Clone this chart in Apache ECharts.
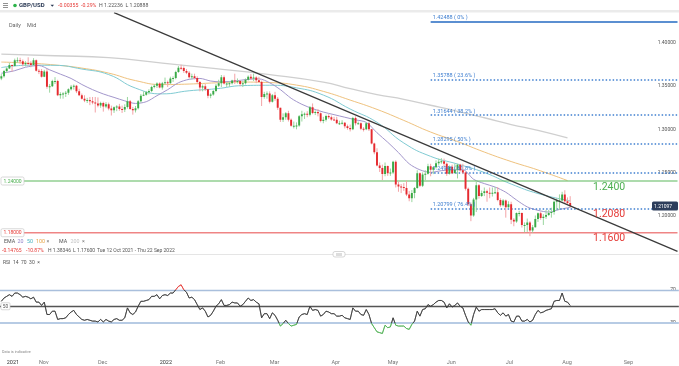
<!DOCTYPE html>
<html><head><meta charset="utf-8">
<script src="https://cdn.jsdelivr.net/npm/echarts@6/dist/echarts.min.js"></script>
<style>html,body{margin:0;padding:0;background:#fff}#c{width:679px;height:366px}</style>
</head><body><div id="c"></div>
<script>
// ---------- DATA ----------
const startDate = '2021-10-12';
const nCategories = 253; // trading days shown, Oct 12 2021 -> end of Sep 2022
const tickDates = ['2021-10-14','2021-11-01','2021-12-01','2022-01-03','2022-02-01','2022-03-01','2022-04-01','2022-05-02','2022-06-01','2022-07-01','2022-08-01','2022-09-01'];
const tickLabels = ['2021','Nov','Dec','2022','Feb','Mar','Apr','May','Jun','Jul','Aug','Sep'];

// daily candles [open, close, low, high]
const candles = [
[1.3590,1.3615,1.3570,1.3640],[1.3615,1.3675,1.3600,1.3690],[1.3675,1.3705,1.3660,1.3720],[1.3705,1.3745,1.3700,1.3772],
[1.3745,1.3735,1.3670,1.3750],[1.3735,1.3800,1.3730,1.3820],[1.3800,1.3800,1.3770,1.3834],[1.3800,1.3790,1.3760,1.3830],
[1.3790,1.3755,1.3730,1.3810],[1.3755,1.3770,1.3730,1.3790],[1.3770,1.3765,1.3740,1.3835],[1.3765,1.3745,1.3720,1.3790],
[1.3745,1.3800,1.3735,1.3825],[1.3800,1.3680,1.3670,1.3810],[1.3680,1.3675,1.3640,1.3700],[1.3675,1.3610,1.3600,1.3700],
[1.3610,1.3670,1.3605,1.3690],[1.3670,1.3495,1.3470,1.3700],[1.3495,1.3500,1.3425,1.3525],[1.3500,1.3560,1.3490,1.3575],
[1.3560,1.3560,1.3525,1.3605],[1.3560,1.3395,1.3385,1.3575],[1.3395,1.3410,1.3355,1.3430],[1.3410,1.3415,1.3355,1.3430],
[1.3415,1.3425,1.3375,1.3445],[1.3425,1.3465,1.3400,1.3475],[1.3465,1.3495,1.3450,1.3515],[1.3495,1.3505,1.3460,1.3520],
[1.3505,1.3440,1.3420,1.3515],[1.3440,1.3395,1.3385,1.3470],[1.3395,1.3355,1.3345,1.3415],[1.3355,1.3335,1.3315,1.3395],
[1.3335,1.3340,1.3305,1.3365],[1.3340,1.3325,1.3280,1.3375],[1.3325,1.3310,1.3290,1.3375],[1.3310,1.3300,1.3195,1.3375],
[1.3300,1.3275,1.3255,1.3370],[1.3275,1.3305,1.3250,1.3320],[1.3305,1.3265,1.3205,1.3320],[1.3265,1.3290,1.3245,1.3315],
[1.3290,1.3240,1.3220,1.3310],[1.3240,1.3220,1.3160,1.3275],[1.3220,1.3255,1.3190,1.3265],[1.3255,1.3265,1.3210,1.3280],
[1.3265,1.3235,1.3215,1.3295],[1.3235,1.3230,1.3190,1.3275],[1.3230,1.3260,1.3200,1.3290],[1.3260,1.3325,1.3240,1.3375],
[1.3325,1.3235,1.3225,1.3340],[1.3235,1.3220,1.3170,1.3260],[1.3220,1.3245,1.3195,1.3270],[1.3245,1.3325,1.3230,1.3340],
[1.3325,1.3390,1.3310,1.3410],[1.3390,1.3400,1.3385,1.3440],[1.3400,1.3430,1.3390,1.3445],[1.3430,1.3445,1.3405,1.3465],
[1.3445,1.3490,1.3430,1.3505],[1.3490,1.3505,1.3475,1.3525],[1.3505,1.3530,1.3480,1.3545],[1.3530,1.3485,1.3475,1.3545],
[1.3485,1.3535,1.3460,1.3550],[1.3535,1.3545,1.3520,1.3600],[1.3545,1.3535,1.3490,1.3565],[1.3535,1.3590,1.3530,1.3610],
[1.3590,1.3595,1.3550,1.3615],[1.3595,1.3665,1.3580,1.3680],[1.3665,1.3715,1.3655,1.3735],[1.3715,1.3710,1.3690,1.3749],
[1.3710,1.3675,1.3655,1.3730],[1.3675,1.3655,1.3640,1.3700],[1.3655,1.3605,1.3590,1.3675],[1.3605,1.3615,1.3580,1.3645],
[1.3615,1.3595,1.3580,1.3645],[1.3595,1.3550,1.3530,1.3615],[1.3550,1.3485,1.3440,1.3560],[1.3485,1.3500,1.3440,1.3520],
[1.3500,1.3465,1.3445,1.3525],[1.3465,1.3390,1.3360,1.3470],[1.3390,1.3405,1.3360,1.3420],[1.3405,1.3445,1.3390,1.3455],
[1.3445,1.3505,1.3430,1.3525],[1.3505,1.3535,1.3490,1.3575],[1.3535,1.3605,1.3490,1.3630],[1.3605,1.3530,1.3520,1.3625],
[1.3530,1.3530,1.3490,1.3545],[1.3530,1.3535,1.3490,1.3560],[1.3535,1.3565,1.3520,1.3575],[1.3565,1.3555,1.3525,1.3645],
[1.3555,1.3560,1.3530,1.3590],[1.3560,1.3525,1.3500,1.3570],[1.3525,1.3535,1.3490,1.3560],[1.3535,1.3575,1.3520,1.3590],
[1.3575,1.3610,1.3565,1.3625],[1.3610,1.3590,1.3575,1.3640],[1.3590,1.3600,1.3560,1.3645],[1.3600,1.3570,1.3535,1.3615],
[1.3570,1.3550,1.3540,1.3610],[1.3550,1.3375,1.3270,1.3565],[1.3375,1.3410,1.3355,1.3435],[1.3410,1.3415,1.3355,1.3440],
[1.3415,1.3320,1.3300,1.3440],[1.3320,1.3395,1.3310,1.3410],[1.3395,1.3355,1.3330,1.3435],[1.3355,1.3250,1.3225,1.3375],
[1.3250,1.3110,1.3085,1.3250],[1.3110,1.3140,1.3085,1.3185],[1.3140,1.3185,1.3110,1.3200],[1.3185,1.3110,1.3090,1.3215],
[1.3110,1.3040,1.3030,1.3125],[1.3040,1.3040,1.3010,1.3090],[1.3040,1.3045,1.3000,1.3080],[1.3045,1.3150,1.3030,1.3165],
[1.3150,1.3175,1.3090,1.3215],[1.3175,1.3180,1.3120,1.3195],[1.3180,1.3170,1.3140,1.3210],[1.3170,1.3255,1.3150,1.3270],
[1.3255,1.3190,1.3175,1.3300],[1.3190,1.3200,1.3165,1.3220],[1.3200,1.3185,1.3150,1.3235],[1.3185,1.3095,1.3080,1.3195],
[1.3095,1.3110,1.3070,1.3145],[1.3110,1.3155,1.3090,1.3170],[1.3155,1.3140,1.3120,1.3175],[1.3140,1.3115,1.3100,1.3160],
[1.3115,1.3110,1.3100,1.3145],[1.3110,1.3070,1.3060,1.3145],[1.3070,1.3070,1.3050,1.3100],[1.3070,1.3075,1.3055,1.3105],
[1.3075,1.3035,1.3010,1.3085],[1.3035,1.3015,1.2995,1.3055],[1.3015,1.3000,1.2975,1.3055],[1.3000,1.3130,1.2990,1.3145],
[1.3130,1.3070,1.3045,1.3150],[1.3070,1.3070,1.3055,1.3090],[1.3070,1.3005,1.2990,1.3080],[1.3005,1.3000,1.2975,1.3025],
[1.3000,1.3070,1.2990,1.3080],[1.3070,1.3000,1.2980,1.3090],[1.3000,1.2835,1.2825,1.3005],[1.2835,1.2735,1.2710,1.2845],
[1.2735,1.2580,1.2570,1.2780],[1.2580,1.2550,1.2505,1.2615],[1.2550,1.2480,1.2410,1.2590],[1.2480,1.2575,1.2455,1.2615],
[1.2575,1.2490,1.2460,1.2580],[1.2490,1.2500,1.2460,1.2545],[1.2500,1.2625,1.2480,1.2635],[1.2625,1.2360,1.2325,1.2640],
[1.2360,1.2335,1.2275,1.2395],[1.2335,1.2330,1.2260,1.2365],[1.2330,1.2320,1.2285,1.2375],[1.2320,1.2245,1.2225,1.2405],
[1.2245,1.2200,1.2165,1.2285],[1.2200,1.2260,1.2155,1.2295],[1.2260,1.2320,1.2200,1.2330],[1.2320,1.2490,1.2310,1.2525],
[1.2490,1.2345,1.2330,1.2500],[1.2345,1.2475,1.2330,1.2500],[1.2475,1.2485,1.2410,1.2525],[1.2485,1.2570,1.2475,1.2600],
[1.2570,1.2530,1.2455,1.2600],[1.2530,1.2560,1.2480,1.2570],[1.2560,1.2605,1.2545,1.2640],[1.2605,1.2625,1.2580,1.2660],
[1.2625,1.2630,1.2600,1.2665],[1.2630,1.2600,1.2560,1.2660],[1.2600,1.2485,1.2460,1.2615],[1.2485,1.2565,1.2475,1.2580],
[1.2565,1.2490,1.2480,1.2590],[1.2490,1.2530,1.2490,1.2600],[1.2530,1.2590,1.2430,1.2600],[1.2590,1.2525,1.2510,1.2600],
[1.2525,1.2500,1.2480,1.2600],[1.2500,1.2310,1.2290,1.2510],[1.2310,1.2130,1.2110,1.2325],[1.2130,1.2000,1.1934,1.2150],
[1.2000,1.2185,1.1985,1.2205],[1.2185,1.2350,1.2040,1.2405],[1.2350,1.2225,1.2195,1.2365],[1.2225,1.2260,1.2215,1.2290],
[1.2260,1.2280,1.2225,1.2325],[1.2280,1.2265,1.2160,1.2300],[1.2265,1.2260,1.2200,1.2325],[1.2260,1.2265,1.2220,1.2325],
[1.2265,1.2270,1.2250,1.2330],[1.2270,1.2180,1.2165,1.2330],[1.2180,1.2120,1.2100,1.2200],[1.2120,1.2175,1.2105,1.2190],
[1.2175,1.2095,1.1975,1.2185],[1.2095,1.2130,1.2090,1.2165],[1.2130,1.1950,1.1900,1.2160],[1.1950,1.1930,1.1875,1.1970],
[1.1930,1.2030,1.1915,1.2035],[1.2030,1.2030,1.1990,1.2055],[1.2030,1.1890,1.1860,1.2035],[1.1890,1.1890,1.1805,1.1920],
[1.1890,1.1920,1.1810,1.1965],[1.1920,1.1825,1.1760,1.1935],[1.1825,1.1865,1.1800,1.1890],[1.1865,1.1960,1.1860,1.2000],
[1.1960,1.2025,1.1925,1.2035],[1.2025,1.1970,1.1950,1.2045],[1.1970,1.1985,1.1890,1.2015],[1.1985,1.2005,1.1960,1.2065],
[1.2005,1.2030,1.1995,1.2065],[1.2030,1.2040,1.1975,1.2090],[1.2040,1.2160,1.2010,1.2175],[1.2160,1.2175,1.2060,1.2200],
[1.2175,1.2175,1.2065,1.2245],[1.2175,1.2245,1.2160,1.2275],[1.2245,1.2165,1.2135,1.2293],[1.2165,1.2145,1.2130,1.2210],
[1.2145,1.2110,1.2089,1.2224]
];

// moving averages: [dayIndex, value]
const ema20 = [[0,1.3650],[5,1.3680],[9,1.3720],[14,1.3740],[18,1.3690],[22,1.3640],[26,1.3590],[30,1.3520],[34,1.3460],[38,1.3410],[42,1.3370],[46,1.3330],[50,1.3300],[54,1.3320],[58,1.3390],[62,1.3460],[66,1.3540],[70,1.3580],[74,1.3590],[78,1.3560],[82,1.3550],[87,1.3560],[92,1.3580],[96,1.3585],[100,1.3540],[104,1.3460],[108,1.3360],[112,1.3290],[116,1.3240],[120,1.3200],[124,1.3170],[128,1.3140],[132,1.3110],[136,1.3080],[140,1.2960],[144,1.2850],[148,1.2730],[152,1.2600],[156,1.2530],[160,1.2500],[164,1.2520],[168,1.2530],[172,1.2530],[176,1.2420],[180,1.2370],[184,1.2330],[188,1.2270],[192,1.2180],[196,1.2100],[200,1.2060],[204,1.2040],[208,1.2070],[212,1.2095]];
const ema50 = [[0,1.3716],[10,1.3743],[20,1.3742],[30,1.3699],[40,1.3635],[50,1.3478],[60,1.3411],[70,1.3447],[80,1.3470],[90,1.3507],[100,1.3511],[110,1.3481],[120,1.3397],[130,1.3235],[140,1.3081],[150,1.2841],[160,1.2686],[170,1.2597],[180,1.2499],[190,1.2365],[200,1.2255],[212,1.2170]];
const ema100 = [[0,1.3780],[10,1.3768],[20,1.3746],[30,1.3710],[40,1.3652],[50,1.3565],[60,1.3519],[70,1.3525],[80,1.3539],[90,1.3548],[100,1.3542],[110,1.3513],[120,1.3440],[130,1.3339],[140,1.3231],[150,1.3103],[160,1.2968],[170,1.2858],[180,1.2736],[190,1.2626],[200,1.2528],[211,1.2405]];
const ma200 = [[0,1.3872],[20,1.3853],[40,1.3832],[60,1.3768],[80,1.3704],[100,1.3635],[120,1.3548],[130,1.3472],[140,1.3403],[150,1.3348],[160,1.3279],[170,1.3209],[180,1.3134],[190,1.3055],[200,1.2988],[211,1.2900]];

// RSI(14)
const rsi = [56,60,62,64,62,66,66,64,61,62,61,59,61,55,55,51,55,40,40,44,
44,34,35,35,36,40,43,45,40,37,34,33,34,33,32,32,31,34,31,34,
32,31,34,35,33,33,36,48,42,40,43,50,56,56,57,58,62,62,64,59,
63,64,63,66,66,70,74,76,70,67,60,61,58,52,46,48,44,37,39,44,
50,53,58,51,51,52,55,54,54,50,52,56,60,57,58,55,53,36,41,41,
35,42,39,33,26,29,33,29,26,27,28,37,40,41,40,50,45,46,45,38,
40,44,43,41,41,38,38,39,36,35,34,48,44,44,40,39,46,40,29,24,
19,18,17,27,24,25,36,27,26,26,26,23,22,28,32,44,38,46,47,52,
50,52,55,57,57,55,48,53,49,51,54,50,48,39,31,27,40,49,44,46,
46,46,46,46,47,42,39,42,38,40,32,31,38,38,32,32,34,31,33,40,
45,42,43,45,46,47,56,57,57,66,56,55,51];

const fibLevels = [1.42488,1.35788,1.31644,1.28295,1.24946,1.20799];
const fibNames = ['0%','23.6%','38.2%','50%','61.8%','76.4%'];
const fibStartIndex = 160;
const trendline = [[42,1.43537],[252,1.15833]];
const greenLevel = [[0,1.24],[252,1.24]];
const redLevel = [[0,1.18],[252,1.18]];
const noteLabels = [['1.2400',1.2400,'#4caf50'],['1.2080',1.2080,'#e53935'],['1.1600',1.1800,'#e53935']];
const lastPrice = 1.21097;

// ---------- BUILD ----------
const cats = [];
{ let d = new Date(startDate + 'T00:00:00Z');
  while (cats.length < nCategories) { const w = d.getUTCDay(); if (w !== 0 && w !== 6) cats.push(d.toISOString().slice(0,10)); d.setUTCDate(d.getUTCDate()+1); } }

const candleData = candles.map((r,i)=>[i, r[0], r[1], r[2], r[3]]);
const FONT = 'Roboto, "Noto Sans", sans-serif';
const chart = echarts.init(document.getElementById('c'), null, {renderer:'canvas'});

const fibMark = fibLevels.map((v,k)=>[
  {coord:[fibStartIndex, v], lineStyle: k===0 ? {type:'solid', width:2, color:'#5b8fd1'} : {type:[1.5,2], width:1.5, color:'#3f7fd0'},
   label:{show:true, position:'insideStartTop', formatter: v.toFixed(5)+' ( '+fibNames[k]+' )', color:'#3f7fd0', fontSize:5.5, fontFamily:FONT, distance:[2,1]}},
  {coord:[nCategories-1, v]}
]);

const option = {
  animation:false,
  backgroundColor:'#fff',
  grid:[{left:-6.25, width:685.1, top:-0.1, height:258.7},
        {left:-6.25, width:685.1, top:265, height:82.5}],
  xAxis:[
    {type:'category', gridIndex:0, data:cats, show:false},
    {type:'category', gridIndex:1, data:cats, axisLine:{show:false}, axisTick:{show:false},
     axisLabel:{interval:(i,v)=>tickDates.includes(v), formatter:v=>{const k=tickDates.indexOf(v); const t=tickLabels[k]; return /^\d{4}$/.test(t)?'{y|'+t+'}':t;},
       align:'left', margin:12, fontSize:5.5, color:'#777', fontFamily:FONT, rich:{y:{fontSize:5.5, color:'#333', fontFamily:FONT}}}}
  ],
  yAxis:[
    {type:'value', gridIndex:0, min:1.15, max:1.45, interval:0.05, position:'right', splitLine:{show:false}, axisLine:{show:false}, axisTick:{show:false},
     axisLabel:{inside:true, margin:3, fontSize:5, color:'#555', fontFamily:FONT, formatter:v=>(v>1.17&&v<1.43)?v.toFixed(5):''}},
    {type:'value', gridIndex:1, min:0, max:100, interval:10, position:'right', splitLine:{show:false}, axisLine:{show:false}, axisTick:{show:false},
     axisLabel:{inside:true, margin:3, fontSize:5, color:'#555', fontFamily:FONT, formatter:v=>(v===70||v===30)?String(v):''}}
  ],
  visualMap:[{type:'piecewise', show:false, seriesIndex:[6], dimension:1,
    pieces:[{lt:30, color:'#4caf50'},{gte:30, lte:70, color:'#3a3a3a'},{gt:70, color:'#e53935'}]}],
  series:[
    {type:'line', name:'MA200', data:ma200, symbol:'none', smooth:true, lineStyle:{color:'#cfcfcf', width:1.3}, z:2},
    {type:'line', name:'EMA100', data:ema100, symbol:'none', smooth:true, lineStyle:{color:'#efc27e', width:1}, z:3},
    {type:'line', name:'EMA50', data:ema50, symbol:'none', smooth:true, lineStyle:{color:'#80cbd3', width:1}, z:3},
    {type:'line', name:'EMA20', data:ema20, symbol:'none', smooth:0.3, lineStyle:{color:'#a397cc', width:1}, z:3},
    {type:'custom', name:'GBP/USD', data:candleData, encode:{x:0, y:[1,2,3,4]}, z:5, clip:true,
     renderItem:(params, api)=>{
       const x=api.value(0), o=api.value(1), c=api.value(2), l=api.value(3), h=api.value(4);
       const pO=api.coord([x,o]), pC=api.coord([x,c]), pL=api.coord([x,l]), pH=api.coord([x,h]);
       const w=api.size([1,0])[0]*0.72; const up=c>=o;
       const col=up?'#3aaa47':'#e52a2f', wick=up?'#9ad69f':'#f3a3a6';
       return {type:'group', children:[
         {type:'line', shape:{x1:pH[0],y1:pH[1],x2:pL[0],y2:pL[1]}, style:{stroke:wick, lineWidth:1}},
         {type:'rect', shape:{x:pO[0]-w/2, y:Math.min(pO[1],pC[1]), width:w, height:Math.max(1,Math.abs(pO[1]-pC[1]))}, style:{fill:col}}
       ]};
     }},
    {type:'line', name:'fib', data:[], symbol:'none', z:4,
     markLine:{silent:true, symbol:['none','none'], animation:false, label:{show:false}, data:fibMark}},
    {type:'line', name:'RSI', xAxisIndex:1, yAxisIndex:1, data:rsi, symbol:'none', lineStyle:{width:0.75}, z:5},
    {type:'line', name:'RSIlevels', xAxisIndex:1, yAxisIndex:1, data:[], symbol:'none',
     markLine:{silent:true, symbol:['none','none'], animation:false, label:{show:false},
       data:[
         {yAxis:70, lineStyle:{type:'solid', color:'#a9bfdc', width:1.3}},
         {yAxis:50, lineStyle:{type:'solid', color:'#555', width:1.4}},
         {yAxis:30, lineStyle:{type:'solid', color:'#b7cbe4', width:2}}
       ]}},
    {type:'line', name:'trend', data:trendline, symbol:'none', lineStyle:{color:'#3a3a3a', width:1.2}, z:6},
    {type:'line', name:'level1240', data:greenLevel, symbol:'none', itemStyle:{color:'#5cb85c'}, lineStyle:{color:'#5cb85c', width:1.2}, z:4},
    {type:'line', name:'level1180', data:redLevel, symbol:'none', itemStyle:{color:'#ef8585'}, lineStyle:{color:'#ef8585', width:1.6}, z:4}
  ]
};
chart.setOption(option);

// ---------- annotations positioned through the axes ----------
const yP = p => chart.convertToPixel({yAxisIndex:0}, p);
const yR = v => chart.convertToPixel({yAxisIndex:1}, v);
const T = (text,x,y,fill,size,weight) => ({type:'text', z:100, style:{text, x, y, fill, font:(weight?weight+' ':'')+(size||5)+'px '+FONT, textVerticalAlign:'middle'}});
const g = [];
// header
g.push({type:'rect', z:99, shape:{x:0,y:0,width:679,height:10}, style:{fill:'#fff'}});
g.push({type:'rect', z:99, shape:{x:0,y:10,width:679,height:2.5}, style:{fill:'#ebebeb'}});
[3.5,5.5,7.5].forEach(yy=>g.push({type:'rect', z:100, shape:{x:3,y:yy-0.5,width:5,height:0.8}, style:{fill:'#777'}}));
g.push({type:'circle', z:100, shape:{cx:15,cy:5.5,r:1.8}, style:{fill:'#2cb34a'}});
g.push(T('GBP/USD',19,5.7,'#2b3a55',6,'bold'));
g.push({type:'polygon', z:100, shape:{points:[[50.5,4.7],[54,4.7],[52.25,6.8]]}, style:{fill:'#2b3a55'}});
g.push(T('-0.00355',58,5.7,'#e53935',5.2));
g.push(T('-0.29%',81,5.7,'#e53935',5.2));
g.push(T('H 1.22236  L 1.20888',99,5.7,'#555',5.2));
g.push(T('Daily',9,26,'#666',5.5));
g.push(T('Mid',27,26,'#666',5.5));
// left level boxes
[[1.24,'1.24000','#4caf50'],[1.18,'1.18000','#e53935']].forEach(([v,t,c])=>{
  const yy=yP(v);
  g.push({type:'rect', z:100, shape:{x:1,y:yy-4,width:23,height:8,r:1.5}, style:{fill:'#fff', stroke:'#c8c8c8', lineWidth:0.7}});
  g.push(T(t,3.5,yy+0.3,c,5));
});
// big note labels
noteLabels.forEach(([t,v,c])=>{ g.push(T(t,593,yP(v)+6,c,10.5)); });
// last price tag
{ const yy=yP(lastPrice);
  g.push({type:'rect', z:100, shape:{x:652,y:yy-4.5,width:26,height:9,r:1.5}, style:{fill:'#2c3d5b'}});
  g.push(T(lastPrice.toFixed(5),654,yy+0.3,'#fff',5)); }
// legends under main panel
g.push(T('EMA',4,241.5,'#555',5.3));
g.push(T('20',17.5,241.5,'#8e7fc6',5.3));
g.push(T('50',27,241.5,'#45b3c0',5.3));
g.push(T('100',36,241.5,'#e6a445',5.3));
g.push(T('×',46.5,241.5,'#777',5.3));
g.push(T('MA',59,241.5,'#555',5.3));
g.push(T('200',70.5,241.5,'#c4c4c4',5.3));
g.push(T('×',82,241.5,'#777',5.3));
g.push(T('-0.14765',2,250.3,'#e53935',5));
g.push(T('-10.87%',26,250.3,'#e53935',5));
g.push(T('H 1.38346',48,250.3,'#555',5));
g.push(T('L 1.17600',73,250.3,'#555',5));
g.push(T('Tue 12 Oct 2021 - Thu 22 Sep 2022',97,250.3,'#555',5));
// divider
g.push({type:'rect', z:99, shape:{x:0,y:254,width:679,height:0.8}, style:{fill:'#dddddd'}});
g.push({type:'rect', z:100, shape:{x:333,y:251.5,width:12,height:5.5,r:2}, style:{fill:'#fff', stroke:'#c5c5c5', lineWidth:0.7}});
[253.3,254.3,255.3].forEach(yy=>g.push({type:'rect', z:101, shape:{x:336,y:yy,width:6,height:0.4}, style:{fill:'#aaa'}}));
// RSI panel
g.push(T('RSI  14  70  30  ×',3,262.5,'#555',5));
{ const yy=yR(50);
  g.push({type:'rect', z:100, shape:{x:1,y:yy-3.5,width:9,height:7,r:1}, style:{fill:'#fff', stroke:'#c8c8c8', lineWidth:0.7}});
  g.push(T('50',2.8,yy+0.3,'#555',4.8)); }
g.push(T('Data is indicative',2,352,'#888',3.8));
chart.setOption({graphic:g});
</script>
</body></html>
